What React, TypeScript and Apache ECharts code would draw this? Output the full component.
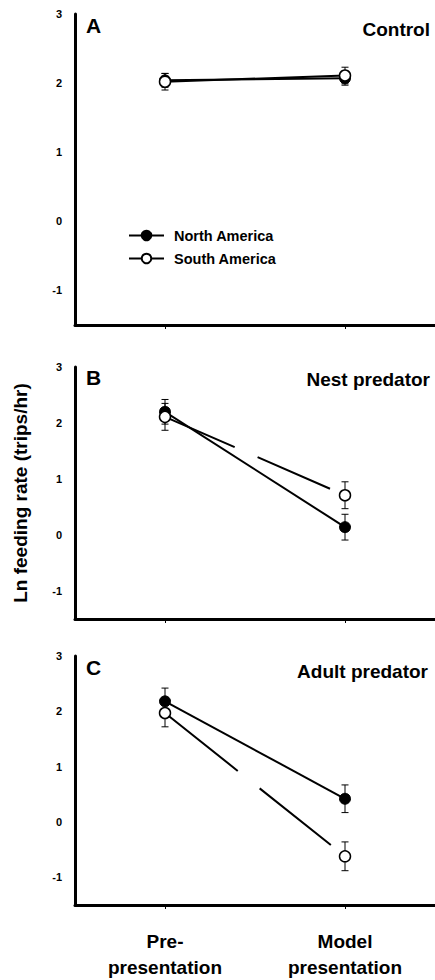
import React, { useEffect, useRef } from "react";
import * as echarts from "echarts";

const categories = ["Pre-\npresentation", "Model\npresentation"];
const yTicks = [-1, 0, 1, 2, 3];
const seriesNames = ["North America", "South America"];

// Panel A – Control
const northA = [2.04, 2.07];
const northAErr = [0.1, 0.1];
const southA = [2.02, 2.11];
const southAErr = [0.12, 0.12];
// Panel B – Nest predator
const northB = [2.2, 0.14];
const northBErr = [0.22, 0.23];
const southB = [2.11, 0.71];
const southBErr = [0.24, 0.24];
// Panel C – Adult predator
const northC = [2.18, 0.42];
const northCErr = [0.24, 0.25];
const southC = [1.97, -0.62];
const southCErr = [0.25, 0.26];

const panelLetters = ["A", "B", "C"];
const panelTitles = ["Control", "Nest predator", "Adult predator"];
const yName = "Ln feeding rate (trips/hr)";

const FONT = "'Liberation Sans', Arial, Helvetica, sans-serif";

export default function App() {
  const ref = useRef<HTMLDivElement>(null);

  useEffect(() => {
    if (!ref.current) return;
    const chart = echarts.init(ref.current, null, { renderer: "svg" });

    const grids = [
      { left: 75, right: 0, top: 14, height: 311 },
      { left: 75, right: 0, top: 367, height: 252 },
      { left: 75, right: 0, top: 656, height: 253 },
    ];

    const xAxes = grids.map((_, i) => ({
      type: "category",
      gridIndex: i,
      data: categories,
      boundaryGap: true,
      axisLine: { show: true, onZero: false, lineStyle: { color: "#000", width: 3 } },
      axisTick: { show: true, alignWithLabel: true, length: 4, lineStyle: { color: "#000", width: 1 } },
      axisLabel: {
        show: i === 2,
        color: "#000",
        fontFamily: FONT,
        fontWeight: "bold",
        fontSize: 19,
        lineHeight: 26,
        margin: 23,
      },
      splitLine: { show: false },
    }));

    const yAxes = grids.map((_, i) => ({
      type: "value",
      gridIndex: i,
      min: -1.5,
      max: 3,
      axisLine: { show: true, lineStyle: { color: "#000", width: 3 } },
      axisTick: { show: false, customValues: yTicks },
      axisLabel: {
        customValues: yTicks,
        color: "#000",
        fontFamily: FONT,
        fontWeight: "bold",
        fontSize: 11,
        margin: 13,
      },
      splitLine: { show: false },
    }));

    const panels = [
      { n: northA, ne: northAErr, s: southA, se: southAErr, sDash: "solid" as any },
      { n: northB, ne: northBErr, s: southB, se: southBErr, sDash: [76, 25, 79, 60] },
      { n: northC, ne: northCErr, s: southC, se: southCErr, sDash: [93, 28, 91, 60] },
    ];

    const errRender = (params: any, api: any) => {
      const x = api.value(0);
      const lo = api.coord([x, api.value(1)]);
      const hi = api.coord([x, api.value(2)]);
      const hw = 3.5;
      const style = { stroke: "#000", lineWidth: 1 };
      return {
        type: "group",
        children: [
          { type: "line", shape: { x1: lo[0], y1: lo[1], x2: hi[0], y2: hi[1] }, style },
          { type: "line", shape: { x1: lo[0] - hw, y1: lo[1], x2: lo[0] + hw, y2: lo[1] }, style },
          { type: "line", shape: { x1: hi[0] - hw, y1: hi[1], x2: hi[0] + hw, y2: hi[1] }, style },
        ],
      };
    };

    const series: any[] = [];
    panels.forEach((p, i) => {
      series.push({
        type: "custom",
        name: "errN" + i,
        xAxisIndex: i,
        yAxisIndex: i,
        z: 1,
        silent: true,
        renderItem: errRender,
        data: p.n.map((v, k) => [k, v - p.ne[k], v + p.ne[k]]),
      });
      series.push({
        type: "custom",
        name: "errS" + i,
        xAxisIndex: i,
        yAxisIndex: i,
        z: 1,
        silent: true,
        renderItem: errRender,
        data: p.s.map((v, k) => [k, v - p.se[k], v + p.se[k]]),
      });
    });
    panels.forEach((p, i) => {
      series.push({
        type: "line",
        name: seriesNames[0],
        xAxisIndex: i,
        yAxisIndex: i,
        z: 3,
        data: p.n,
        symbol: "circle",
        symbolSize: 11,
        lineStyle: { color: "#000", width: 2 },
        itemStyle: { color: "#000", borderColor: "#000", borderWidth: 1 },
      });
      series.push({
        type: "line",
        name: seriesNames[1],
        xAxisIndex: i,
        yAxisIndex: i,
        z: 4,
        data: p.s,
        symbol: "circle",
        symbolSize: 11,
        showAllSymbol: true,
        lineStyle: { color: "#000", width: 2, type: p.sDash },
        itemStyle: { color: "#fff", borderColor: "#000", borderWidth: 1.5 },
      });
    });

    const graphics: any[] = [];
    const letterY = [26, 378, 668];
    const titleY = [29, 379, 671];
    const titleRight = [430, 430, 428];
    panelLetters.forEach((l, i) => {
      graphics.push({
        type: "text",
        left: 86,
        top: letterY[i] - 11,
        style: { text: l, fontFamily: FONT, fontWeight: "bold", fontSize: 21, fill: "#000" },
      });
      graphics.push({
        type: "text",
        x: titleRight[i],
        y: titleY[i],
        style: {
          text: panelTitles[i],
          fontFamily: FONT,
          fontWeight: "bold",
          fontSize: 19,
          fill: "#000",
          align: "right",
          verticalAlign: "middle",
        },
      });
    });
    graphics.push({
      type: "text",
      x: 20,
      y: 493,
      rotation: Math.PI / 2,
      style: {
        text: yName,
        fontFamily: FONT,
        fontWeight: "bold",
        fontSize: 19,
        fill: "#000",
        align: "center",
        verticalAlign: "middle",
      },
    });

    chart.setOption({
      animation: false,
      backgroundColor: "#fff",
      grid: grids,
      xAxis: xAxes,
      yAxis: yAxes,
      legend: {
        data: seriesNames,
        orient: "vertical",
        left: 123,
        top: 223,
        itemWidth: 35,
        itemHeight: 12,
        itemGap: 8,
        textStyle: {
          color: "#000",
          fontFamily: FONT,
          fontWeight: "bold",
          fontSize: 14.5,
          padding: [0, 0, 0, 5],
        },
      },
      series,
      graphic: graphics,
    });

    return () => chart.dispose();
  }, []);

  return (
    <div
      ref={ref}
      style={{ position: "absolute", left: 0, top: 0, width: 435, height: 980 }}
    />
  );
}
